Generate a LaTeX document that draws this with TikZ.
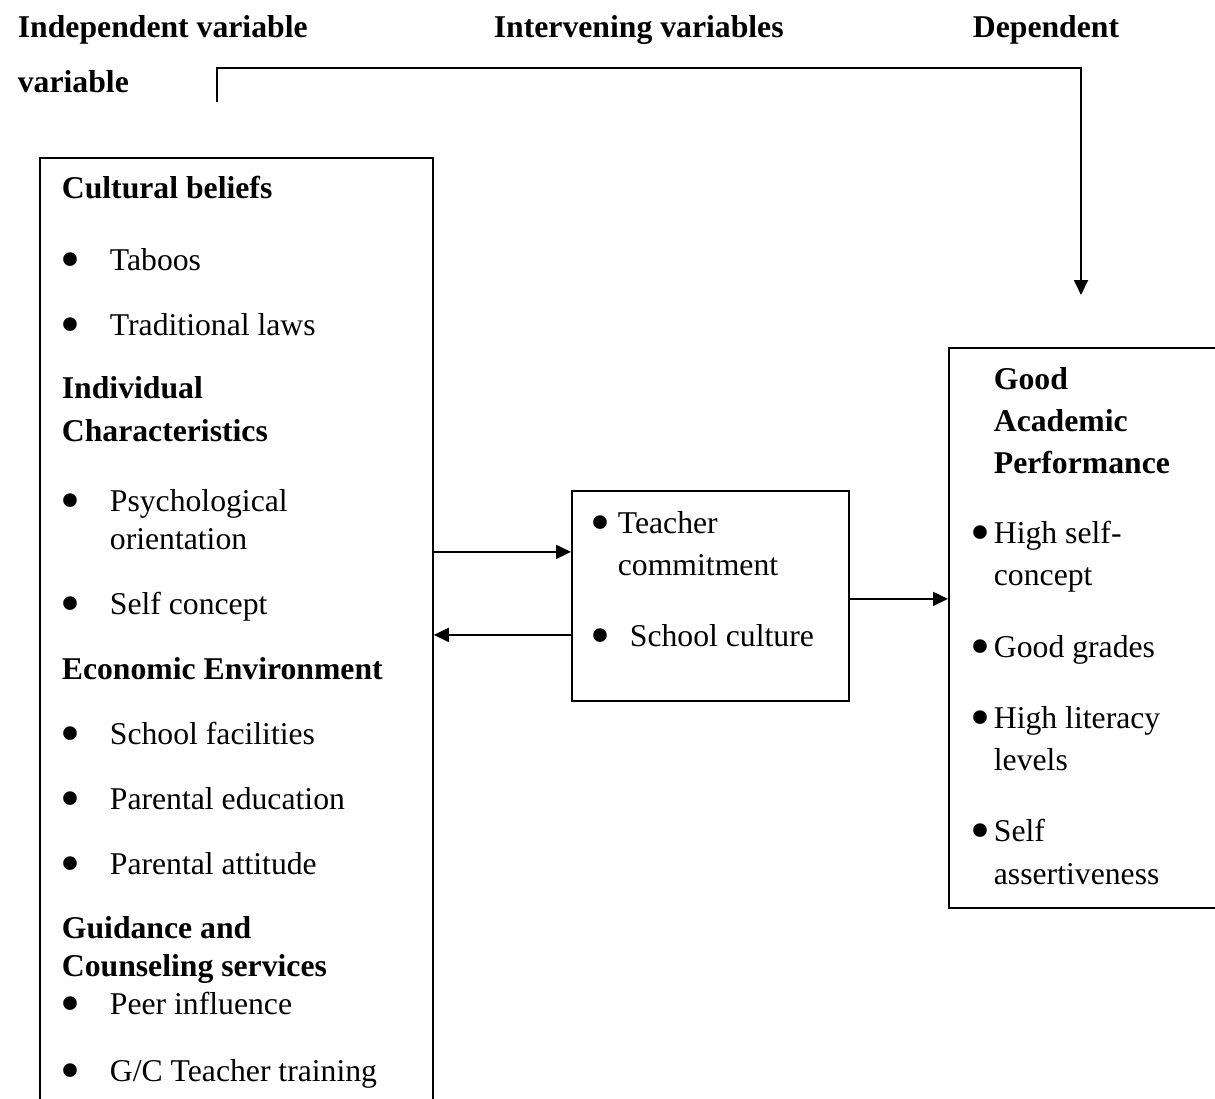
\documentclass[tikz,border=0pt]{standalone}
\usepackage{fontspec}
\setmainfont{Liberation Serif}
\usetikzlibrary{arrows.meta,positioning}

% big bullet hanging left of the item text
\newcommand{\bl}[1]{\llap{\raisebox{-8pt}{\scalebox{1.8}{\textbullet}}\hspace{#1}}}

\begin{document}
\begin{tikzpicture}[
            x = 1pt, y = -1pt, % pixel grid, y runs down
            > = {Triangle[length=15pt,width=14pt]}, % arrow head style
            line width = 1.8pt,
            box/.style = {draw, rectangle, inner sep=0pt, anchor=north west},
            txt/.style = {anchor=base west, inner sep=0pt, font=\fontsize{31.7}{40}\selectfont},
            hd/.style = {txt, font=\fontsize{31.7}{40}\selectfont\bfseries}
        ]
    \clip (0,0) rectangle (1215,1098);

    % headings
    \node[hd] (iv) at (17,37) {Independent variable};
    \node[hd] (nv) at (493,37) {Intervening variables};
    \node[hd] (dv) at (972,37) {Dependent};
    \node[hd] (vr) at (17,92) {variable};

    % boxes (left and right ones run past the page)
    \node[box, minimum width=393pt, minimum height=1000pt] (ind) at (39,157) {};
    \node[box, minimum width=277pt, minimum height=210pt] (mid) at (571,490) {};
    \node[box, minimum width=320pt, minimum height=560pt] (dep) at (948,347) {};

    % independent variables
    \node[hd] (cb) at (61,198) {Cultural beliefs};
    \node[txt] (tab) at (109,270) {\bl{29pt}Taboos};
    \node[txt] (tl) at (109,335) {\bl{29pt}Traditional laws};
    \node[hd] (ic1) at (61,398) {Individual};
    \node[hd] (ic2) at (61,441) {Characteristics};
    \node[txt] (ps1) at (109,511) {\bl{29pt}Psychological};
    \node[txt] (ps2) at (109,549) {orientation};
    \node[txt] (sc) at (109,614) {\bl{29pt}Self concept};
    \node[hd] (ee) at (61,679) {Economic Environment};
    \node[txt] (sf) at (109,744) {\bl{29pt}School facilities};
    \node[txt] (pe) at (109,809) {\bl{29pt}Parental education};
    \node[txt] (pa) at (109,874) {\bl{29pt}Parental attitude};
    \node[hd] (gc1) at (61,938) {Guidance and};
    \node[hd] (gc2) at (61,976) {Counseling services};
    \node[txt] (pi) at (109,1014) {\bl{29pt}Peer influence};
    \node[txt] (gt) at (109,1081) {\bl{29pt}G/C Teacher training};

    % intervening variables
    \node[txt] (tc1) at (617,533) {\bl{7pt}Teacher};
    \node[txt] (tc2) at (617,575) {commitment};
    \node[txt] (scu) at (629,646) {\bl{19pt}School culture};

    % dependent variable
    \node[hd] (gd) at (993,389) {Good};
    \node[hd] (ac) at (993,431) {Academic};
    \node[hd] (pf) at (993,473) {Performance};
    \node[txt] (hs1) at (993,543) {\bl{3pt}High self-};
    \node[txt] (hs2) at (993,585) {concept};
    \node[txt] (gg) at (993,657) {\bl{3pt}Good grades};
    \node[txt] (hl1) at (993,728) {\bl{3pt}High literacy};
    \node[txt] (hl2) at (993,770) {levels};
    \node[txt] (sa1) at (993,841) {\bl{3pt}Self};
    \node[txt] (sa2) at (993,884) {assertiveness};

    % connectors
    \coordinate (in) at ([yshift=44pt]mid.west);
    \coordinate (out) at ([yshift=-39pt]mid.west);
    \draw[->] (in -| ind.east) -- (in);
    \draw[->] (out) -- (out -| ind.east);
    \draw[->] ([yshift=-3pt]mid.east) -- ([yshift=-3pt]mid.east -| dep.west);

    \coordinate (fb) at (217,102);
    \coordinate (tip) at (1081,295);
    \draw[->] (fb) -- ++(0,-34) -| (tip);

\end{tikzpicture}
\end{document}
